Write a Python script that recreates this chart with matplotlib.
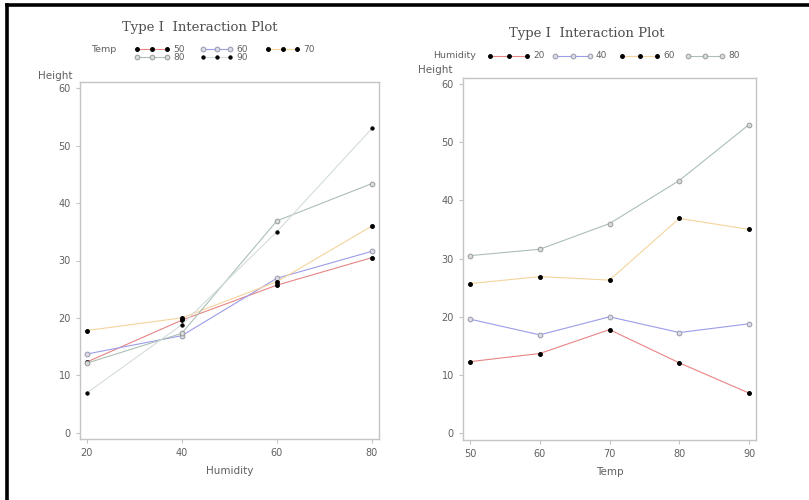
import matplotlib
matplotlib.use("Agg")
import matplotlib.pyplot as plt
from matplotlib.lines import Line2D

# Cell means: Height by Humidity (rows) and Temp (columns)
temps = [50, 60, 70, 80, 90]
humidities = [20, 40, 60, 80]
hum20 = [12.3, 13.7, 17.8, 12.1, 6.9]
hum40 = [19.6, 16.9, 20.0, 17.3, 18.8]
hum60 = [25.7, 26.9, 26.3, 36.9, 35.0]
hum80 = [30.5, 31.6, 36.0, 43.4, 53.0]
hum_series = [hum20, hum40, hum60, hum80]
yticks = [0, 10, 20, 30, 40, 50, 60]

title_text = "Type I  Interaction Plot"

line_colors = ["#e88484", "#9c9ce8", "#f4d49c", "#abc0b3", "#d4dcdc"]
marker_face = ["black", "#dcdce6", "black", "#d8dcd8", "black"]
marker_edge = ["black", "#9898ac", "black", "#9a9a9a", "black"]
marker_size = [2.8, 3.4, 2.8, 3.4, 2.4]

TXT = "#606060"
SP = "#c4c4c4"

fig = plt.figure(figsize=(8.09, 5.0), dpi=100)
W, H = 809, 500

def fx(px):
    return px / W

def fy(py):
    return 1 - py / H

# black frame (left & top)
fig.add_artist(Line2D([fx(7), fx(7)], [fy(5), 0], color="black", lw=2.6, transform=fig.transFigure))
fig.add_artist(Line2D([fx(7), 1], [fy(5), fy(5)], color="black", lw=2.6, transform=fig.transFigure))

def style_axes(ax):
    for s in ax.spines.values():
        s.set_color(SP)
        s.set_linewidth(1.0)
    ax.tick_params(colors=SP, labelcolor=TXT, labelsize=7, length=3, width=0.8, direction="out")
    ax.set_yticks(yticks)

def draw_legend(title, labels, idx, rows_y, title_x, line_x, text_dx=6):
    fig.text(fx(title_x), fy(rows_y[0]), title, fontsize=6.8, color=TXT, va="center", ha="left")
    for k, lab in enumerate(labels):
        i = idx[k]
        x0, x1 = line_x[k]
        y = rows_y[k]
        xs = [fx(x0), fx((x0 + x1) / 2), fx(x1)]
        fig.add_artist(Line2D(xs, [fy(y)] * 3, color=line_colors[i], lw=0.8,
                              marker="o", ms=marker_size[i], mfc=marker_face[i],
                              mec=marker_edge[i], mew=0.7, transform=fig.transFigure))
        fig.text(fx(x1 + text_dx), fy(y), str(lab), fontsize=6.5, color=TXT, va="center", ha="left")

# ---------- Left: x = Humidity, series = Temp ----------
axL = fig.add_axes([fx(80), fy(439), fx(379) - fx(80), fy(82) - fy(439)])
for j, t in enumerate(temps):
    vals = [hum_series[h][j] for h in range(len(humidities))]
    axL.plot(humidities, vals, color=line_colors[j], lw=0.8, marker="o",
             ms=marker_size[j], mfc=marker_face[j], mec=marker_edge[j], mew=0.7, zorder=3)
axL.set_xlim(18.6, 81.5)
axL.set_ylim(-1.1, 61.1)
axL.set_xticks(humidities)
style_axes(axL)
axL.set_xlabel("Humidity", fontsize=7.5, color=TXT, labelpad=6)
fig.text(fx(38), fy(76), "Height", fontsize=7.5, color=TXT, va="center", ha="left")
fig.text(fx(200), fy(27), title_text, fontsize=9.5, color="#505050", family="DejaVu Serif",
         ha="center", va="center")
draw_legend("Temp", temps, [0, 1, 2, 3, 4], [49, 49, 49, 57, 57], 91,
            [(137, 167), (203, 230), (268, 297), (137, 167), (203, 230)])

# ---------- Right: x = Temp, series = Humidity ----------
axR = fig.add_axes([fx(463), fy(440), fx(756) - fx(463), fy(78) - fy(440)])
for i, h in enumerate(humidities):
    axR.plot(temps, hum_series[i], color=line_colors[i], lw=0.8, marker="o",
             ms=marker_size[i], mfc=marker_face[i], mec=marker_edge[i], mew=0.7, zorder=3)
axR.set_xlim(49.0, 91.0)
axR.set_ylim(-1.15, 61.0)
axR.set_xticks(temps)
style_axes(axR)
axR.set_xlabel("Temp", fontsize=7.5, color=TXT, labelpad=6)
fig.text(fx(418), fy(70), "Height", fontsize=7.5, color=TXT, va="center", ha="left")
fig.text(fx(587), fy(33), title_text, fontsize=9.5, color="#505050", family="DejaVu Serif",
         ha="center", va="center")
draw_legend("Humidity", humidities, [0, 1, 2, 3], [56, 56, 56, 56], 433,
            [(490, 527), (555, 590), (622, 657), (688, 722)])

fig.savefig("out.png", dpi=100, facecolor="white")
